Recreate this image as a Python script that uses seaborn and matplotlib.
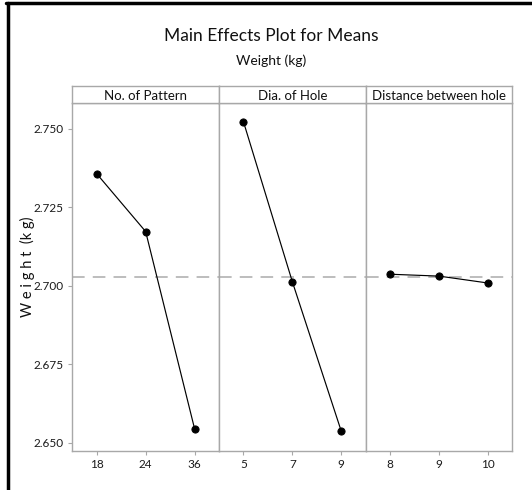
import matplotlib
matplotlib.use("Agg")
import matplotlib.pyplot as plt
from matplotlib.lines import Line2D
import seaborn as sns
import pandas as pd

# ---- data ----
factors = ["No. of Pattern", "Dia. of Hole", "Distance between hole"]
pattern_levels = ["18", "24", "36"]
pattern_means = [2.7357, 2.7173, 2.6545]
hole_levels = ["5", "7", "9"]
hole_means = [2.7523, 2.7013, 2.6537]
dist_levels = ["8", "9", "10"]
dist_means = [2.7037, 2.7031, 2.7009]
grand_mean = 2.7027
y_ticks = [2.650, 2.675, 2.700, 2.725, 2.750]
y_tick_labels = ["2.650", "2.675", "2.700", "2.725", "2.750"]

rows = []
for f, lv, mv in zip(factors, [pattern_levels, hole_levels, dist_levels],
                     [pattern_means, hole_means, dist_means]):
    for l, m in zip(lv, mv):
        rows.append({"factor": f, "level": l, "mean": m})
df = pd.DataFrame(rows)
level_orders = [pattern_levels, hole_levels, dist_levels]

sns.set_style("white")
plt.rcParams["font.family"] = ["Lato", "DejaVu Sans"]

W, H = 532, 490
fig = plt.figure(figsize=(W / 100, H / 100), dpi=100)

left, right = 72.3 / W, 512.4 / W
bottom, top = 1 - 450.6 / H, 1 - 103.5 / H
strip_top = 1 - 86.5 / H
pw = (right - left) / 3

spine_col = "#a8a8a8"
axes = []
for i, f in enumerate(factors):
    ax = fig.add_axes([left + i * pw, bottom, pw, top - bottom])
    sub = df[df["factor"] == f]
    sns.pointplot(data=sub, x="level", y="mean", order=level_orders[i], ax=ax,
                  color="black", markersize=5.2, linewidth=0.85, errorbar=None)
    ax.axhline(grand_mean, color="#b8b8b8", lw=1.3, ls=(0, (7, 4.5)), zorder=0)
    ax.set_xlim(-0.5, 2.5)
    ax.set_ylim(2.6475, 2.7581)
    ax.set_xlabel("")
    ax.set_ylabel("")
    for s in ax.spines.values():
        s.set_color(spine_col)
        s.set_linewidth(1.0)
    ax.tick_params(axis="x", length=3, width=0.8, color=spine_col, labelsize=8.5,
                   labelcolor="#1a1a1a", pad=3, bottom=True)
    if i == 0:
        ax.set_yticks(y_ticks)
        ax.set_yticklabels(y_tick_labels)
        ax.tick_params(axis="y", length=3, width=0.8, color=spine_col, labelsize=8.5,
                       labelcolor="#1a1a1a", left=True)
    else:
        ax.set_yticks([])
    # strip
    sax = fig.add_axes([left + i * pw, top, pw, strip_top - top])
    sax.set_xticks([]); sax.set_yticks([])
    for s in sax.spines.values():
        s.set_color(spine_col)
        s.set_linewidth(1.0)
    sax.text(0.5, 0.45, f, ha="center", va="center", fontsize=9.5,
             color="#111111", transform=sax.transAxes)
    axes.append(ax)

fig.text(271 / W, 1 - 36 / H, "Main Effects Plot for Means", ha="center", va="center",
         fontsize=12.5, color="#111111")
fig.text(271 / W, 1 - 61 / H, "Weight (kg)", ha="center", va="center",
         fontsize=10, color="#111111")
fig.text(27 / W, 1 - 267 / H, "W e i g h t  (k g)", ha="center", va="center",
         rotation=90, fontsize=10.5, color="#111111")

# screenshot frame (left and top edges)
fig.add_artist(Line2D([7.5 / W, 7.5 / W], [0, 1 - 3 / H], transform=fig.transFigure,
                      color="black", lw=2.5))
fig.add_artist(Line2D([6 / W, 1], [1 - 3 / H, 1 - 3 / H], transform=fig.transFigure,
                      color="black", lw=2.5))

fig.savefig("out.png", dpi=100)
